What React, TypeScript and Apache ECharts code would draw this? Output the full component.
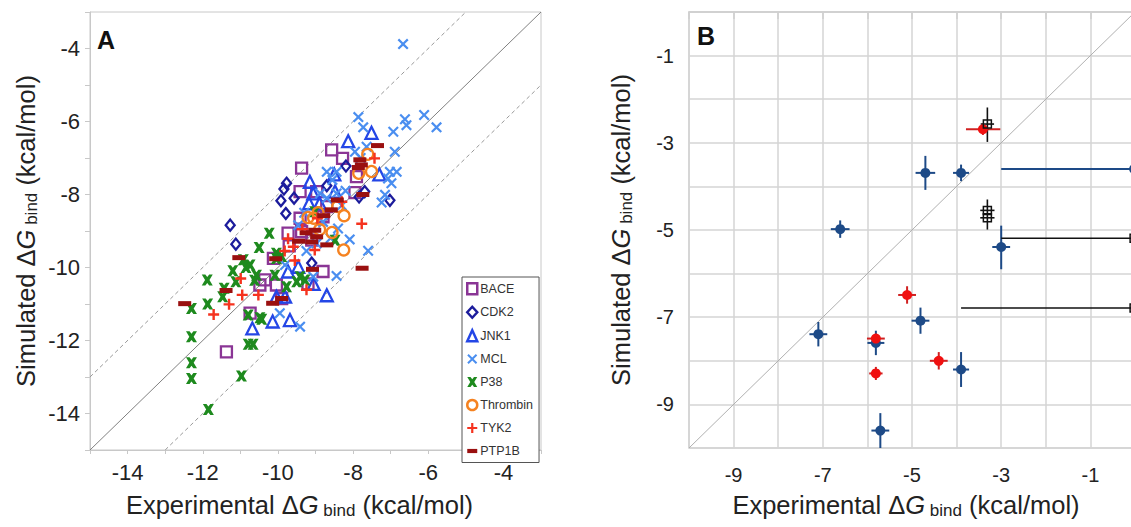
import React, { useEffect, useRef } from 'react';
import * as echarts from 'echarts';

// ---------- Panel A data: [experimental, simulated] ----------
const seriesNames = ['BACE', 'CDK2', 'JNK1', 'MCL', 'P38', 'Thrombin', 'TYK2', 'PTP1B'];

const bace = [
  [-8.57, -6.78], [-8.28, -7.01], [-9.37, -7.28], [-9.41, -7.92], [-7.95, -7.95], [-7.91, -7.51],
  [-8.97, -7.92], [-9.41, -8.65], [-8.80, -8.61], [-8.70, -8.33], [-9.37, -9.02], [-9.73, -9.06],
  [-9.70, -9.41], [-9.10, -9.25], [-10.12, -9.75], [-10.35, -10.34], [-10.48, -10.48], [-10.04, -10.48],
  [-8.80, -10.11], [-9.20, -10.45], [-10.74, -11.25], [-11.37, -12.31], [-9.90, -10.85],
];
const cdk2 = [
  [-11.27, -8.84], [-11.12, -9.36], [-9.77, -7.69], [-9.84, -7.85], [-9.92, -8.17], [-9.79, -8.52],
  [-9.57, -8.10], [-8.70, -7.76], [-8.19, -7.22], [-7.84, -8.07], [-7.69, -7.92], [-7.02, -8.16],
  [-9.10, -9.88],
];
const jnk1 = [
  [-8.13, -6.54], [-7.51, -6.31], [-9.15, -7.65], [-9.06, -7.97], [-9.17, -8.24], [-8.89, -8.24],
  [-8.50, -7.45], [-8.48, -7.92], [-7.30, -7.45], [-9.46, -9.98], [-9.73, -10.11], [-8.70, -10.76],
  [-9.68, -11.44], [-10.14, -11.48], [-10.68, -11.67], [-10.04, -10.80], [-9.81, -10.80], [-9.05, -10.45],
];
const mcl = [
  [-6.67, -3.88], [-7.86, -5.88], [-7.73, -6.16], [-6.62, -5.94], [-6.58, -6.10], [-6.11, -5.82],
  [-5.78, -6.16], [-6.93, -6.28], [-7.64, -6.69], [-6.89, -6.83], [-7.95, -6.83], [-7.02, -7.38],
  [-6.84, -7.38], [-7.07, -7.56], [-6.98, -7.69], [-7.15, -8.01], [-7.24, -8.22], [-8.09, -9.23],
  [-7.60, -9.54], [-8.44, -10.23], [-8.70, -7.38], [-8.44, -7.38], [-8.88, -7.97], [-8.70, -8.10],
  [-8.44, -7.97], [-9.46, -8.84], [-8.80, -8.75], [-8.40, -8.93], [-8.97, -9.34], [-9.24, -9.55],
  [-9.81, -9.93], [-9.06, -10.25], [-9.95, -11.25], [-9.41, -11.62], [-8.20, -7.90], [-8.55, -7.60],
  [-9.30, -8.50], [-8.60, -9.20], [-7.80, -7.00], [-8.30, -8.30],
];
const p38 = [
  [-10.23, -9.06], [-10.50, -9.45], [-11.88, -10.34], [-11.20, -10.09], [-11.12, -10.39], [-11.43, -10.57],
  [-11.47, -10.80], [-11.87, -11.00], [-12.30, -11.12], [-12.30, -11.90], [-12.30, -12.61], [-12.30, -13.04],
  [-10.97, -12.97], [-11.85, -13.89], [-10.79, -11.30], [-10.43, -11.42], [-10.79, -12.10], [-10.66, -12.10],
  [-10.92, -9.79], [-10.74, -9.93], [-10.57, -10.21], [-10.08, -10.21], [-10.04, -9.75], [-9.77, -10.53],
  [-9.50, -10.39], [-9.28, -10.34], [-10.04, -9.61], [-9.41, -10.25], [-8.48, -9.25], [-9.02, -8.47],
  [-10.85, -10.00], [-10.62, -10.35], [-10.48, -11.38], [-9.90, -9.70],
];
const thrombin = [
  [-7.61, -6.90], [-7.51, -7.37], [-7.85, -7.42], [-9.20, -8.63], [-8.93, -8.50], [-8.89, -8.96],
  [-8.56, -9.04], [-8.41, -8.33], [-8.24, -8.58], [-8.25, -9.52], [-9.05, -8.65],
];
const tyk2 = [
  [-7.43, -7.01], [-7.77, -8.80], [-9.02, -9.52], [-9.73, -9.21], [-9.59, -9.43], [-9.55, -9.81],
  [-9.24, -10.61], [-10.52, -10.75], [-10.95, -10.75], [-10.99, -10.30], [-11.30, -11.01], [-11.71, -11.29],
  [-8.30, -8.20], [-8.95, -8.65], [-9.82, -9.55], [-9.35, -8.95],
];
const ptp1b = [
  [-7.35, -6.66], [-7.82, -7.05], [-7.78, -7.19], [-7.86, -7.26], [-7.74, -8.00], [-7.76, -10.02],
  [-8.42, -8.15], [-8.58, -8.42], [-8.78, -8.58], [-9.02, -8.98], [-8.97, -9.16], [-8.70, -9.38],
  [-9.10, -9.30], [-9.45, -9.28], [-10.06, -9.76], [-11.04, -9.73], [-11.38, -10.63], [-12.48, -10.99],
  [-9.90, -10.85], [-10.14, -10.98], [-9.08, -10.05], [-9.25, -9.05],
];

const axisATicks = [-14, -12, -10, -8, -6, -4];
const identityA = [[-15, -15], [-3, -3]];
const upperA = [[-15, -13], [-5, -3]];
const lowerA = [[-13, -15], [-3, -5]];

// ---------- Panel B data: [x, y, xLow, xHigh, yLow, yHigh] ----------
const blueB = [
  [-4.70, -3.69, -4.92, -4.48, -4.08, -3.30],
  [-3.90, -3.69, -4.08, -3.72, -3.88, -3.50],
  [-0.02, -3.60, -3.00, 0.0, -3.60, -3.60],
  [-3.00, -5.39, -3.20, -2.80, -5.90, -4.90],
  [-6.61, -4.98, -6.82, -6.40, -5.18, -4.78],
  [-4.81, -7.08, -5.01, -4.61, -7.38, -6.78],
  [-7.10, -7.39, -7.30, -6.90, -7.67, -7.11],
  [-5.81, -7.59, -6.00, -5.62, -7.87, -7.31],
  [-3.90, -8.20, -4.08, -3.72, -8.60, -7.80],
  [-5.71, -9.60, -5.91, -5.51, -10.0, -9.20],
];
const redB = [
  [-3.41, -2.69, -3.79, -3.02, -2.82, -2.56],
  [-5.11, -6.49, -5.31, -4.91, -6.69, -6.29],
  [-5.81, -7.49, -6.01, -5.61, -7.62, -7.38],
  [-4.40, -8.00, -4.60, -4.20, -8.20, -7.80],
  [-5.81, -8.29, -5.96, -5.66, -8.44, -8.14],
];
const blackB = [
  [-3.31, -2.57, -3.46, -3.16, -2.98, -2.19],
  [-3.31, -4.55, -3.47, -3.15, -4.99, -4.30],
  [-3.31, -4.72, -3.47, -3.15, -4.72, -4.72],
  [-0.02, -5.19, -3.00, 0.0, -5.19, -5.19],
  [-0.02, -6.79, -3.90, 0.0, -6.79, -6.79],
];
const axisBTicks = [-9, -7, -5, -3, -1];
const identityB = [[-10, -10], [0, 0]];

// ---------- styles ----------
const FONT = 'Liberation Sans, Arial, Helvetica, sans-serif';
const colors: Record<string, string> = {
  BACE: '#8a3595', CDK2: '#1c1c9c', JNK1: '#2446e6', MCL: '#4a8ef0', P38: '#1e8a1e',
  Thrombin: '#f58220', TYK2: '#f5331f', PTP1B: '#9a1010',
};
const CROSS = 'path://M0,-0.28 L0.72,-1 L1,-0.72 L0.28,0 L1,0.72 L0.72,1 L0,0.28 L-0.72,1 L-1,0.72 L-0.28,0 L-1,-0.72 L-0.72,-1 Z';
const PLUS = 'path://M-1,-0.22 L-0.22,-0.22 L-0.22,-1 L0.22,-1 L0.22,-0.22 L1,-0.22 L1,0.22 L0.22,0.22 L0.22,1 L-0.22,1 L-0.22,0.22 L-1,0.22 Z';
const HOUR = 'path://M-1,-1 L-0.35,-1 L0,-0.55 L0.35,-1 L1,-1 L0.4,0 L1,1 L0.35,1 L0,0.55 L-0.35,1 L-1,1 L-0.4,0 Z';
const BAR = 'path://M0,0 L12,0 L12,5 L0,5 Z';

const richName = (pre: string, padRight: number) => ({
  name: `{n|${pre} Δ}{i|G}{s| bind}{n| (kcal/mol)}`,
  nameLocation: 'middle' as const,
  nameTextStyle: {
    padding: [0, padRight, 0, 0],
    rich: {
      n: { fontSize: 25.5, fontFamily: FONT, color: '#222' },
      i: { fontSize: 25.5, fontFamily: FONT, color: '#222', fontStyle: 'italic' },
      s: { fontSize: 17, fontFamily: FONT, color: '#222', padding: [12, 0, 0, 0] },
    },
  },
});

function hollow(name: string, symbol: string, size: any, data: number[][]) {
  return {
    name, type: 'scatter', xAxisIndex: 0, yAxisIndex: 0, data, symbol, symbolSize: size,
    symbolKeepAspect: true,
    itemStyle: { color: 'rgba(255,255,255,0)', borderColor: colors[name], borderWidth: 2.3, opacity: 1 },
    z: 3,
  };
}
function filled(name: string, symbol: string, size: any, data: number[][]) {
  return {
    name, type: 'scatter', xAxisIndex: 0, yAxisIndex: 0, data, symbol, symbolSize: size,
    symbolKeepAspect: true,
    itemStyle: { color: colors[name], borderWidth: 0, opacity: 1 },
    z: 3,
  };
}
function errBars(data: number[][], color: string, width: number) {
  return {
    type: 'custom', xAxisIndex: 1, yAxisIndex: 1, data, silent: true, z: 2,
    encode: { x: 0, y: 1 },
    renderItem: (_p: any, api: any) => {
      const x = api.value(0), y = api.value(1);
      const a = api.coord([api.value(2), y]);
      const b = api.coord([api.value(3), y]);
      const c = api.coord([x, api.value(4)]);
      const d = api.coord([x, api.value(5)]);
      return {
        type: 'group',
        children: [
          { type: 'line', shape: { x1: a[0], y1: a[1], x2: b[0], y2: b[1] }, style: { stroke: color, lineWidth: width } },
          { type: 'line', shape: { x1: c[0], y1: c[1], x2: d[0], y2: d[1] }, style: { stroke: color, lineWidth: width } },
        ],
      };
    },
  };
}

const hollowNames = ['BACE', 'CDK2', 'JNK1', 'Thrombin'];

export default function App() {
  const ref = useRef<HTMLDivElement>(null);
  useEffect(() => {
    if (!ref.current) return;
    const chart = echarts.init(ref.current, undefined, { renderer: 'svg' });
    const option: any = {
      animation: false,
      backgroundColor: '#fff',
      grid: [
        { left: 90, top: 12, width: 451, height: 438, show: true, borderColor: '#c8c8c8', borderWidth: 1, backgroundColor: 'transparent', outerBoundsMode: 'none', containLabel: false },
        { left: 689, top: 12, width: 446, height: 436, show: true, borderColor: '#cfcfcf', borderWidth: 1.5, backgroundColor: 'transparent', outerBoundsMode: 'none', containLabel: false },
      ],
      xAxis: [
        {
          gridIndex: 0, type: 'value', min: -15, max: -3, interval: 1,
          ...richName('Experimental', 32), nameGap: 40, nameMoveOverlap: false,
          axisLine: { show: true, lineStyle: { color: '#c8c8c8', width: 1 } },
          axisTick: { show: true, inside: false, length: 4, lineStyle: { color: '#c8c8c8' } },
          axisLabel: {
            show: true, margin: 11, fontSize: 22, fontFamily: FONT, color: '#222',
            showMinLabel: true, showMaxLabel: true,
            formatter: (v: number) => (axisATicks.includes(Math.round(v)) ? String(Math.round(v)) : ''),
          },
          splitLine: { show: false },
        },
        {
          gridIndex: 1, type: 'value', min: -10, max: 0, interval: 1,
          ...richName('Experimental', 12), nameGap: 42, nameMoveOverlap: false,
          axisLine: { show: true, lineStyle: { color: '#cfcfcf', width: 1.5 } },
          axisTick: { show: true, inside: false, length: 7, lineStyle: { color: '#cfcfcf', width: 1.5 } },
          axisLabel: {
            show: true, margin: 17, fontSize: 20, fontFamily: FONT, color: '#222',
            showMinLabel: true, showMaxLabel: true,
            formatter: (v: number) => (axisBTicks.includes(Math.round(v)) ? String(Math.round(v)) : ''),
          },
          splitLine: { show: true, lineStyle: { color: '#d4d4d4', width: 1.5 } },
        },
      ],
      yAxis: [
        {
          gridIndex: 0, type: 'value', min: -15, max: -3, interval: 1,
          ...richName('Simulated', 0), nameGap: 50, nameMoveOverlap: false,
          axisLine: { show: true, lineStyle: { color: '#c8c8c8', width: 1 } },
          axisTick: { show: true, inside: false, length: 5, lineStyle: { color: '#c8c8c8' } },
          axisLabel: {
            show: true, margin: 10, fontSize: 22, fontFamily: FONT, color: '#222',
            showMinLabel: true, showMaxLabel: true,
            formatter: (v: number) => (axisATicks.includes(Math.round(v)) ? String(Math.round(v)) : ''),
          },
          splitLine: { show: false },
        },
        {
          gridIndex: 1, type: 'value', min: -10, max: 0, interval: 1,
          ...richName('Simulated', 0), nameGap: 54, nameMoveOverlap: false,
          axisLine: { show: true, lineStyle: { color: '#cfcfcf', width: 1.5 } },
          axisTick: { show: false },
          axisLabel: {
            show: true, margin: 15, fontSize: 20, fontFamily: FONT, color: '#222',
            showMinLabel: true, showMaxLabel: true,
            formatter: (v: number) => (axisBTicks.includes(Math.round(v)) ? String(Math.round(v)) : ''),
          },
          splitLine: { show: true, lineStyle: { color: '#d4d4d4', width: 1.5 } },
        },
      ],
      legend: {
        data: seriesNames.map((n) =>
          n === 'PTP1B'
            ? { name: n, icon: BAR }
            : hollowNames.includes(n)
            ? { name: n, itemStyle: { borderWidth: 2.5 } }
            : { name: n }
        ),
        orient: 'vertical',
        left: 462, top: 277,
        itemWidth: 10, itemHeight: 11, itemGap: 10,
        padding: [5, 6, 5, 4],
        borderColor: '#555', borderWidth: 1, backgroundColor: '#fff',
        textStyle: { fontSize: 12.5, fontFamily: FONT, color: '#333', padding: [0, 0, 0, -2] },
        selectedMode: false,
      },
      graphic: [
        { type: 'text', left: 97, top: 27, style: { text: 'A', fontSize: 25, fontWeight: 'bold', fontFamily: FONT, fill: '#111' } },
        { type: 'text', left: 697, top: 23, style: { text: 'B', fontSize: 25, fontWeight: 'bold', fontFamily: FONT, fill: '#111' } },
      ],
      series: [
        { type: 'line', xAxisIndex: 0, yAxisIndex: 0, data: identityA, symbol: 'none', silent: true, lineStyle: { color: '#808080', width: 1 }, z: 1 },
        { type: 'line', xAxisIndex: 0, yAxisIndex: 0, data: upperA, symbol: 'none', silent: true, lineStyle: { color: '#999', width: 1, type: [4, 3] }, z: 1 },
        { type: 'line', xAxisIndex: 0, yAxisIndex: 0, data: lowerA, symbol: 'none', silent: true, lineStyle: { color: '#999', width: 1, type: [4, 3] }, z: 1 },
        hollow('BACE', 'rect', 11, bace),
        hollow('CDK2', 'diamond', [9, 11], cdk2),
        hollow('JNK1', 'triangle', 12, jnk1),
        filled('MCL', CROSS, 11, mcl),
        filled('P38', HOUR, 11, p38),
        hollow('Thrombin', 'circle', 11, thrombin),
        filled('TYK2', PLUS, 11, tyk2),
        filled('PTP1B', 'rect', [13, 5], ptp1b),

        { type: 'line', xAxisIndex: 1, yAxisIndex: 1, data: identityB, symbol: 'none', silent: true, lineStyle: { color: '#b0b0b0', width: 1 }, z: 1 },
        errBars(blueB, '#1d4a87', 2),
        errBars(redB, '#d02020', 2),
        errBars(blackB, '#111', 1.6),
        {
          type: 'scatter', xAxisIndex: 1, yAxisIndex: 1, data: blueB.map((d) => [d[0], d[1]]),
          symbol: 'circle', symbolSize: 10, itemStyle: { color: '#1d4a87', opacity: 1 }, z: 3, silent: true,
        },
        {
          type: 'scatter', xAxisIndex: 1, yAxisIndex: 1, data: redB.map((d) => [d[0], d[1]]),
          symbol: 'circle', symbolSize: 10, itemStyle: { color: '#f01010', opacity: 1 }, z: 3, silent: true,
        },
        {
          type: 'scatter', xAxisIndex: 1, yAxisIndex: 1, data: blackB.map((d) => [d[0], d[1]]),
          symbol: 'rect', symbolSize: 8, itemStyle: { color: 'rgba(255,255,255,0)', borderColor: '#111', borderWidth: 1.5, opacity: 1 }, z: 4, silent: true,
        },
      ],
    };
    chart.setOption(option);
    return () => chart.dispose();
  }, []);
  return <div ref={ref} style={{ position: 'absolute', left: 0, top: 0, width: 1131, height: 527, background: '#fff' }} />;
}
